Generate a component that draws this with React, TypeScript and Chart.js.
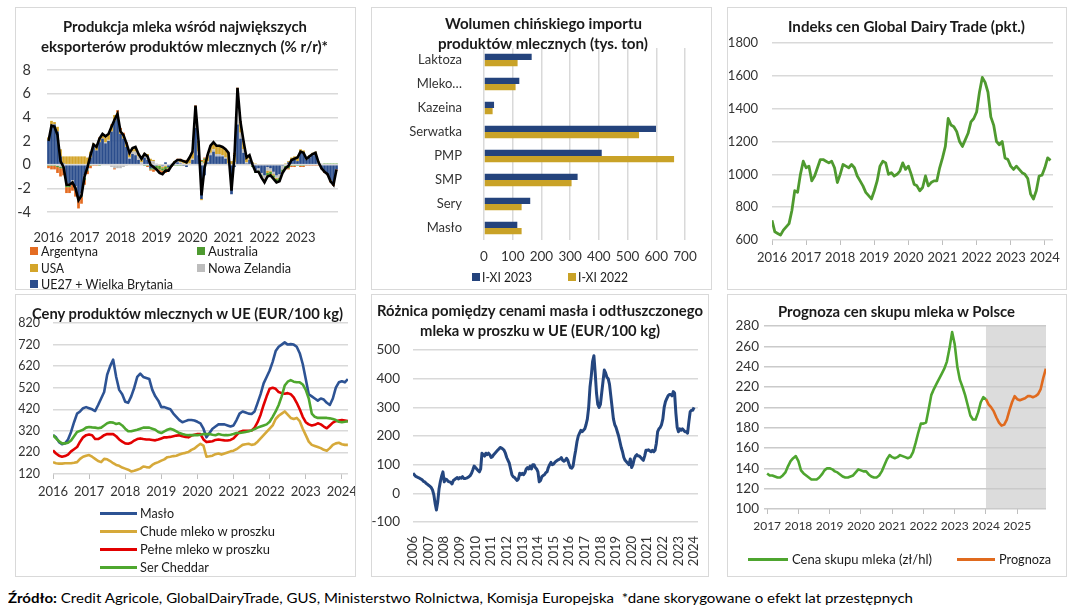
import React, { useEffect, useLayoutEffect, useRef } from "react";
import { Chart, registerables } from "chart.js";

Chart.register(...registerables);

const FONT = "Lato, 'Liberation Sans', Arial, sans-serif";
const TICK = "#333333";
const GRID = "#D9D9D9";
Chart.defaults.font.family = FONT;
Chart.defaults.color = TICK;

// ---------------- Panel 1: milk production y/y (monthly, Jan 2016 - Jan 2024) ----------------
const P1_YEARS = ["2016", "2017", "2018", "2019", "2020", "2021", "2022", "2023"];
const P1_TOTAL = [
  2.0, 3.3, 3.2, 2.5, 0.3, -0.2, -1.7, -1.7, -1.5, -2.0, -3.0, -2.6,
  -1.0, -0.2, 0.8, 1.7, 1.5, 2.2, 2.6, 2.4, 2.6, 3.2, 3.8, 4.3,
  2.8, 2.5, 1.8, 1.0, 1.4, 1.5, 0.9, 0.5, 0.9, 0.7, 0.0, -0.2,
  -0.4, -0.7, -0.8, -0.5, -0.5, -0.1, 0.2, 0.4, 0.4, 0.3, 0.2, 0.6,
  1.1, 5.0, 2.0, -2.6, -0.3, 0.8, 1.6, 1.9, 1.6, 1.6, 1.5, 1.3,
  1.0, -2.2, 0.8, 6.5, 3.6, 2.0, 0.6, 0.8, 0.0, -0.6, -0.6, -1.1,
  -1.5, -1.0, -0.9, -1.2, -1.5, -1.4, -0.7, -0.3, -0.1, 0.4, 0.5, 0.6,
  1.1, 1.0, 0.5, 0.7, 0.9, 1.0, 0.2, -0.3, -0.6, -0.8, -1.4, -1.7,
  -0.4,
];
const P1_EU = [
  2.0, 3.3, 3.4, 2.8, 0.7, 0.1, -1.6, -1.6, -1.3, -1.8, -2.7, -2.4,
  -0.9, -0.3, 0.6, 1.5, 1.2, 1.9, 2.2, 1.8, 2.0, 2.8, 3.7, 4.0,
  2.6, 2.2, 1.5, 0.5, 0.9, 0.8, 0.4, 0.0, 0.6, 0.4, -0.3, -0.3,
  -0.1, 0.0, -0.1, 0.2, -0.2, 0.0, 0.1, 0.2, 0.1, -0.1, -0.2, 0.0,
  0.4, 3.1, 0.8, -2.9, -0.9, 0.2, 0.8, 1.1, 0.7, 0.7, 0.7, 0.5,
  0.0, -2.5, -0.2, 3.4, 2.2, 1.0, 0.1, 0.4, 0.1, -0.5, -0.3, -0.7,
  -0.9, -0.2, -0.3, -0.6, -0.9, -0.8, -0.1, 0.0, 0.2, 0.4, 0.4, 0.3,
  1.0, 1.0, 0.4, 0.6, 0.8, 0.9, 0.1, -0.3, -0.6, -0.8, -1.3, -1.6,
  -0.4,
];
const P1_USA = [
  0.2, 0.3, 0.2, 0.4, 0.6, 0.6, 0.7, 0.7, 0.7, 0.7, 0.7, 0.7,
  0.7, 0.6, 0.5, 0.3, 0.4, 0.3, 0.3, 0.4, 0.4, 0.5, 0.5, 0.4,
  0.3, 0.3, 0.2, 0.3, 0.2, 0.3, 0.2, 0.3, 0.2, 0.2, 0.2, 0.1,
  0.0, -0.1, -0.1, -0.1, 0.0, 0.0, 0.1, 0.1, 0.2, 0.2, 0.3, 0.4,
  0.5, 1.2, 0.7, -0.1, 0.3, 0.4, 0.5, 0.5, 0.6, 0.6, 0.6, 0.6,
  0.8, 0.3, 0.7, 1.6, 0.8, 0.6, 0.4, 0.3, 0.1, 0.1, 0.0, 0.0,
  -0.1, -0.2, -0.1, -0.1, -0.1, 0.0, 0.0, 0.1, 0.1, 0.2, 0.3, 0.4,
  0.3, 0.2, 0.1, 0.1, 0.1, 0.1, 0.1, 0.0, 0.0, 0.0, -0.1, -0.1,
  0.0,
];
const P1_ARG = [
  -0.2, -0.3, -0.3, -0.5, -0.7, -0.6, -0.5, -0.5, -0.6, -0.6, -0.7, -0.6,
  -0.4, -0.3, -0.2, -0.1, -0.1, 0.1, 0.1, 0.1, 0.1, 0.1, -0.1, 0.2,
  0.2, 0.2, 0.2, 0.1, 0.1, 0.1, 0.0, 0.0, 0.0, -0.1, -0.1, -0.2,
  -0.2, -0.3, -0.3, -0.3, -0.2, -0.1, 0.0, 0.1, 0.1, 0.1, 0.1, 0.1,
  0.1, 0.1, 0.1, 0.1, 0.1, 0.1, 0.1, 0.1, 0.1, 0.1, 0.1, 0.1,
  0.1, 0.0, 0.1, 0.1, 0.1, 0.1, 0.0, 0.0, 0.0, 0.0, 0.0, -0.1,
  -0.1, -0.1, -0.1, -0.1, -0.1, -0.1, -0.1, -0.1, -0.1, -0.1, -0.1, 0.0,
  -0.1, -0.1, -0.1, -0.1, -0.1, -0.1, -0.1, -0.1, -0.1, -0.1, -0.1, -0.1,
  -0.1,
];
const P1_AUS = [
  -0.1, -0.1, -0.1, -0.1, -0.1, -0.1, -0.1, -0.1, -0.1, -0.1, -0.1, -0.1,
  -0.2, -0.1, -0.1, 0.0, 0.0, -0.1, 0.0, 0.0, 0.0, 0.0, 0.0, 0.0,
  0.0, 0.0, 0.0, 0.0, 0.0, 0.0, 0.0, 0.0, -0.1, -0.1, -0.1, -0.1,
  -0.2, -0.3, -0.2, -0.2, -0.1, -0.1, -0.1, -0.1, -0.1, 0.0, 0.0, 0.0,
  0.0, 0.0, 0.1, 0.1, 0.1, 0.0, 0.0, 0.0, 0.0, 0.0, 0.0, 0.0,
  0.0, 0.0, 0.0, 0.0, 0.0, 0.0, 0.0, 0.0, -0.1, -0.1, -0.1, -0.1,
  -0.1, -0.2, -0.2, -0.2, -0.2, -0.2, -0.2, -0.2, -0.2, -0.1, -0.1, -0.1,
  -0.1, -0.1, 0.0, 0.0, 0.0, 0.0, 0.0, 0.0, 0.1, 0.1, 0.1, 0.1,
  0.1,
];
const P1_NZ = [
  0.1, 0.1, 0.0, -0.1, -0.2, -0.2, -0.2, -0.2, -0.2, -0.2, -0.2, -0.2,
  -0.2, -0.1, 0.0, 0.0, 0.0, 0.0, 0.0, 0.1, 0.1, -0.2, -0.3, -0.3,
  -0.3, -0.2, -0.1, 0.1, 0.2, 0.3, 0.3, 0.2, 0.2, 0.3, 0.3, 0.3,
  0.1, 0.0, -0.1, -0.1, 0.0, 0.1, 0.1, 0.1, 0.1, 0.1, 0.0, 0.1,
  0.1, 0.6, 0.3, 0.2, 0.1, 0.1, 0.2, 0.2, 0.2, 0.2, 0.1, 0.1,
  0.1, 0.0, 0.2, 1.4, 0.5, 0.3, 0.1, 0.1, -0.1, -0.1, -0.2, -0.2,
  -0.3, -0.3, -0.2, -0.2, -0.2, -0.3, -0.3, -0.1, -0.1, 0.0, 0.0, 0.0,
  0.0, 0.0, 0.1, 0.1, 0.1, 0.1, 0.1, 0.1, 0.0, 0.0, 0.0, 0.0,
  0.0,
];

// ---------------- Panel 2: China imports (thousand t) ----------------
const P2_CATS = ["Laktoza", "Mleko…", "Kazeina", "Serwatka", "PMP", "SMP", "Sery", "Masło"];
const P2_2023 = [166, 123, 35, 599, 410, 326, 161, 116];
const P2_2022 = [117, 110, 30, 540, 662, 305, 131, 131];

// ---------------- Panel 3: GDT index (monthly from Jan 2016) ----------------
const P3_START = 2016;
const P3_GDT = [
  720, 650, 640, 630, 660, 680, 700, 780, 900, 890, 1000, 1080,
  1040, 1050, 960, 990, 1040, 1090, 1090, 1080, 1070, 1080, 1040, 950,
  1000, 1060, 1050, 1040, 1060, 1040, 990, 960, 930, 890, 870, 850,
  900, 960, 1050, 1080, 1070, 1000, 1010, 990, 1000, 1020, 1070, 1030,
  1050, 1000, 940, 930, 900, 920, 990, 930, 950, 960, 960, 1040,
  1100, 1170, 1340, 1300, 1290, 1260, 1200, 1170, 1210, 1250, 1320, 1340,
  1380, 1500, 1590, 1560, 1500, 1350, 1300, 1200, 1180, 1200, 1100, 1090,
  1050, 1030, 1050, 1030, 1010, 1000, 975, 880, 850, 900, 990, 995,
  1040, 1100, 1085,
];

// ---------------- Panel 4: EU dairy prices (monthly from Jan 2016) ----------------
const P4_START = 2016;
const P4_MASLO = [
  300, 290, 268, 258, 262, 280, 315, 360, 400, 410, 425, 430,
  425, 420, 412, 440, 470, 500, 580, 620, 650, 570, 510, 490,
  455, 450, 480, 520, 570, 585, 570, 565, 560, 510, 480, 460,
  430, 430, 425, 420, 400, 385, 370, 360, 365, 370, 370, 368,
  362, 355, 330, 290, 310, 330, 340, 350, 350, 350, 345, 340,
  345, 370, 400, 410, 405, 400, 398, 410, 450, 490, 540, 570,
  600, 640, 690, 710, 720, 730, 720, 722, 720, 710, 680, 630,
  560, 490, 480, 470, 460, 470, 465, 450, 440, 470, 520, 545,
  550, 545, 560,
];
const P4_SMP = [
  175, 170, 168, 168, 170, 170, 170, 172, 175, 190, 200, 205,
  208, 200, 190, 180, 175, 190, 188, 180, 170, 162, 158, 150,
  145, 140, 132, 135, 140, 145, 155, 152, 150, 162, 170, 175,
  182, 188, 198, 200, 203, 205, 210, 215, 218, 222, 232, 238,
  250, 260, 252, 200, 202, 205, 212, 215, 210, 215, 220, 225,
  228, 235, 245, 255, 258, 260, 255, 258, 270, 285, 300, 315,
  330, 345, 375, 390, 400, 410, 395, 380, 375, 380, 365, 330,
  300, 270, 255, 250, 245, 240, 232, 228, 240, 255, 262, 265,
  258, 255, 255,
];
const P4_WMP = [
  230, 215, 205, 200, 203, 210, 225, 235, 245, 270, 290, 300,
  303, 300, 282, 282, 290, 300, 305, 305, 305, 295, 280, 270,
  262, 260, 265, 275, 282, 285, 282, 280, 280, 278, 276, 280,
  285, 290, 290, 292, 295, 298, 300, 295, 292, 290, 298, 302,
  305, 305, 280, 268, 270, 272, 278, 280, 278, 276, 275, 278,
  285, 300, 315, 320, 320, 320, 322, 335, 360, 395, 440, 480,
  515, 520, 515, 500, 495, 492, 495, 490, 475, 450, 420, 385,
  360, 350, 345, 348, 355, 350, 340, 332, 345, 358, 365, 368,
  370, 368, 365,
];
const P4_CHEDDAR = [
  300, 285, 272, 262, 262, 265, 275, 295, 315, 320, 325, 335,
  338, 336, 335, 332, 335, 345, 355, 360, 358, 352, 355, 345,
  330, 318, 318, 322, 325, 330, 335, 335, 335, 330, 325, 315,
  310, 318, 325, 330, 325, 318, 310, 305, 302, 300, 300, 300,
  300, 302, 305, 305, 305, 302, 300, 305, 302, 300, 300, 302,
  305, 310, 310, 312, 315, 318, 322, 328, 335, 340, 345, 350,
  362, 385, 410, 440, 480, 530, 548, 555, 548, 545, 545, 535,
  510, 470, 400, 385, 380, 380, 380, 380, 378, 375, 370, 362,
  360, 362, 365,
];

// ---------------- Panel 5: butter - SMP spread (monthly from Jan 2006) ----------------
const P5_START = 2006;
const P5_SPREAD = [
  70, 65, 60, 57, 55, 53, 50, 47, 42, 40, 35, 32,
  28, 25, 20, 12, -5, -35, -58, -30, 15, 40, 60, 75,
  40, 50, 48, 42, 40, 38, 33, 45, 48, 52, 55, 50,
  55, 53, 58, 52, 52, 53, 55, 58, 62, 70, 82, 95,
  90, 85, 80, 75, 85, 140, 135, 130, 140, 135, 140, 135,
  125, 128, 135, 140, 145, 150, 155, 160, 158, 155, 150, 140,
  125, 115, 105, 85, 65, 58, 55, 50, 45, 50, 70, 65,
  70, 65, 72, 85, 90, 85, 95, 85, 100, 100, 90, 85,
  75, 40, 45, 58, 62, 65, 72, 75, 90, 100, 108, 100,
  102, 108, 112, 115, 118, 120, 125, 115, 112, 115, 122, 115,
  100, 90, 88, 95, 125, 150, 180, 200, 210, 220, 215, 220,
  225, 240, 260, 300, 370, 410, 460, 480, 420, 350, 310, 300,
  310, 350, 390, 430, 420, 405, 400, 380, 340, 300, 260, 240,
  230, 215, 200, 180, 160, 145, 125, 115, 110, 105, 100, 120,
  90, 100, 120, 130, 135, 130, 130, 125, 120, 115, 130, 150,
  150, 152, 148, 145, 150, 145, 150, 175, 215, 225, 230, 240,
  260, 300, 320, 330, 340, 345, 345, 340, 355, 350, 280, 230,
  215, 225, 220, 225, 220, 215, 215, 210, 250, 285, 290, 290,
  300,
];

// ---------------- Panel 6: Polish milk price + forecast ----------------
const P6_START = 2017;
const P6_PRICE = [
  135, 133, 133, 132, 131, 131, 133, 136, 142, 147, 150, 152,
  147, 138, 135, 133, 131, 129, 129, 129, 131, 134, 138, 140,
  140, 139, 137, 136, 134, 132, 131, 131, 132, 133, 136, 139,
  138, 137, 137, 134, 132, 131, 131, 133, 137, 143, 149, 153,
  151, 150, 151, 153, 152, 151, 150, 151, 156, 165, 175, 184,
  184, 185, 198, 212, 218, 223, 228, 233, 238, 245, 258, 274,
  262, 240, 227, 220, 212, 202, 192, 188, 188, 195, 205, 210,
  208,
];
const P6_FC_START = 2024;
const P6_FORECAST = [
  208, 203, 200, 196, 190, 185, 182, 183, 188, 197, 205, 211,
  208, 207, 208, 209, 211, 211, 210, 211, 213, 218, 229, 238,
];

// ---------------- helpers ----------------
type Box = { x: number; y: number; w: number; h: number };
type Plot = { l: number; r: number; t: number; b: number };

const monthly = (start: number, arr: number[]) => arr.map((v, i) => ({ x: start + i / 12, y: v }));
const yearLabel = (v: any) => (Number.isInteger(Number(v)) ? String(v) : "");
const plainLabel = (v: any) => String(v);

function frame(p: Box, a: Plot) {
  return {
    padding: { left: 0, top: a.t - p.y, right: p.x + p.w - a.r, bottom: 0 },
    yW: a.l - p.x,
    xH: p.y + p.h - a.b,
  };
}
const fitY = (w: number) => (s: any) => {
  s.width = w;
  s.paddingTop = 0;
  s.paddingBottom = 0;
};
const fitX = (h: number) => (s: any) => {
  s.height = h;
  s.paddingLeft = 0;
  s.paddingRight = 0;
};
function baseOptions(g: any) {
  return {
    animation: false as const,
    responsive: false,
    maintainAspectRatio: false,
    events: [] as any[],
    layout: { padding: g.padding },
    plugins: { legend: { display: false }, title: { display: false }, tooltip: { enabled: false } },
  };
}

// panel boxes & plot areas (page px)
const B1: Box = { x: 15, y: 7, w: 341, h: 283 };
const A1: Plot = { l: 47, r: 338, t: 70, b: 212 };
const B2: Box = { x: 371, y: 7, w: 341, h: 283 };
const A2: Plot = { l: 484, r: 685, t: 48, b: 240 };
const B3: Box = { x: 727, y: 7, w: 340, h: 283 };
const A3: Plot = { l: 772, r: 1053, t: 43, b: 240 };
const B4: Box = { x: 15, y: 294, w: 341, h: 283 };
const A4: Plot = { l: 53, r: 348, t: 323, b: 474 };
const B5: Box = { x: 371, y: 294, w: 338, h: 283 };
const A5: Plot = { l: 413, r: 698, t: 350, b: 522 };
const B6: Box = { x: 727, y: 294, w: 340, h: 283 };
const A6: Plot = { l: 764, r: 1046, t: 326, b: 509 };

// ---------------- chart builders ----------------
function makeP1(c: HTMLCanvasElement) {
  const g = frame(B1, A1);
  const labels = P1_TOTAL.map((_, i) => i);
  const bar = (label: string, data: number[], color: string) => ({
    type: "bar" as const,
    label,
    data,
    backgroundColor: color,
    stack: "parts",
    order: 1,
    barPercentage: 0.9,
    categoryPercentage: 1,
  });
  return new Chart(c, {
    type: "bar",
    data: {
      labels,
      datasets: [
        {
          type: "line" as const,
          label: "Suma",
          data: P1_TOTAL,
          borderColor: "#000000",
          borderWidth: 2.6,
          pointRadius: 0,
          tension: 0,
          stack: "total",
          order: 0,
        } as any,
        bar("UE27 + Wielka Brytania", P1_EU, "#2B4D8C"),
        bar("Nowa Zelandia", P1_NZ, "#BDBDBD"),
        bar("USA", P1_USA, "#D4A52A"),
        bar("Australia", P1_AUS, "#4E9A30"),
        bar("Argentyna", P1_ARG, "#E46C22"),
      ],
    },
    options: {
      ...baseOptions(g),
      scales: {
        x: {
          stacked: true,
          offset: true,
          grid: { display: false },
          border: { display: false },
          ticks: {
            autoSkip: false,
            maxRotation: 0,
            minRotation: 0,
            padding: 10,
            color: TICK,
            font: { size: 13 },
            callback: (_v: any, i: number) => (i % 12 === 0 ? P1_YEARS[i / 12] ?? "" : ""),
          },
          afterFit: fitX(g.xH),
        },
        y: {
          stacked: true,
          min: -4,
          max: 8,
          ticks: { stepSize: 2, padding: 16, color: TICK, font: { size: 14.5 } },
          grid: { color: GRID, lineWidth: 1.5, drawTicks: false },
          border: { display: false },
          afterFit: fitY(g.yW),
        },
      },
    } as any,
  });
}

function makeP2(c: HTMLCanvasElement) {
  const g = frame(B2, A2);
  return new Chart(c, {
    type: "bar",
    data: {
      labels: P2_CATS,
      datasets: [
        { label: "I-XI 2023", data: P2_2023, backgroundColor: "#24437C" },
        { label: "I-XI 2022", data: P2_2022, backgroundColor: "#C9A227" },
      ],
    },
    options: {
      ...baseOptions(g),
      indexAxis: "y",
      datasets: { bar: { categoryPercentage: 0.52, barPercentage: 1 } },
      scales: {
        x: {
          min: 0,
          max: 700,
          ticks: { stepSize: 100, padding: 9, color: TICK, font: { size: 13.5 }, maxRotation: 0 },
          grid: { color: GRID, lineWidth: 1.5, drawTicks: false },
          border: { display: false },
          afterFit: fitX(g.xH),
        },
        y: {
          ticks: { padding: 14, color: TICK, font: { size: 13 }, autoSkip: false },
          grid: { display: false },
          border: { display: false },
          afterFit: fitY(g.yW),
        },
      },
    } as any,
  });
}

function yearAxis(g: any, min: number, max: number, size: number, pad: number, tickMarks: boolean, rotate = false) {
  return {
    type: "linear",
    min,
    max,
    ticks: {
      stepSize: 1,
      includeBounds: false,
      autoSkip: false,
      maxRotation: rotate ? 90 : 0,
      minRotation: rotate ? 90 : 0,
      padding: pad,
      color: TICK,
      font: { size },
      callback: yearLabel,
    },
    grid: tickMarks
      ? { display: true, drawOnChartArea: false, drawTicks: true, tickLength: 5, color: "#BFBFBF", lineWidth: 1 }
      : { display: false },
    border: { display: false },
    afterFit: fitX(g.xH),
  };
}
function valueAxis(g: any, min: number, max: number, step: number, size: number, pad: number, gridColor = GRID) {
  return {
    min,
    max,
    ticks: { stepSize: step, padding: pad, color: TICK, font: { size }, callback: plainLabel },
    grid: { color: gridColor, lineWidth: 1.5, drawTicks: false },
    border: { display: false },
    afterFit: fitY(g.yW),
  };
}
const lineDs = (label: string, data: any[], color: string, width: number) => ({
  label,
  data,
  borderColor: color,
  backgroundColor: color,
  borderWidth: width,
  pointRadius: 0,
  tension: 0,
  borderJoinStyle: "round" as const,
});

function makeP3(c: HTMLCanvasElement) {
  const g = frame(B3, A3);
  return new Chart(c, {
    type: "line",
    data: { datasets: [lineDs("GDT", monthly(P3_START, P3_GDT), "#4F9A2F", 2.8)] },
    options: {
      ...baseOptions(g),
      scales: {
        x: yearAxis(g, 2016, 2024.24, 13, 5, true),
        y: valueAxis(g, 600, 1800, 200, 13, 14),
      },
    } as any,
  });
}

function makeP4(c: HTMLCanvasElement) {
  const g = frame(B4, A4);
  return new Chart(c, {
    type: "line",
    data: {
      datasets: [
        lineDs("Ser Cheddar", monthly(P4_START, P4_CHEDDAR), "#4EA72E", 2.6),
        lineDs("Pełne mleko w proszku", monthly(P4_START, P4_WMP), "#E20000", 2.6),
        lineDs("Chude mleko w proszku", monthly(P4_START, P4_SMP), "#D6A93A", 2.6),
        lineDs("Masło", monthly(P4_START, P4_MASLO), "#2D5394", 2.6),
      ],
    },
    options: {
      ...baseOptions(g),
      scales: {
        x: yearAxis(g, 2016, 2024.17, 13, 5, true),
        y: valueAxis(g, 120, 820, 100, 12.5, 13),
      },
    } as any,
  });
}

function makeP5(c: HTMLCanvasElement) {
  const g = frame(B5, A5);
  return new Chart(c, {
    type: "line",
    data: { datasets: [lineDs("Różnica", monthly(P5_START, P5_SPREAD), "#24467F", 3)] },
    options: {
      ...baseOptions(g),
      scales: {
        x: yearAxis(g, 2006, 2024.25, 13, 6, false, true),
        y: valueAxis(g, -100, 500, 100, 13.5, 13),
      },
    } as any,
  });
}

const shadePlugin = {
  id: "forecastShade",
  beforeDraw(chart: any) {
    const { ctx, chartArea: a, scales } = chart;
    const x0 = scales.x.getPixelForValue(P6_FC_START);
    ctx.save();
    ctx.fillStyle = "#DCDCDC";
    ctx.fillRect(x0, a.top, a.right - x0, a.bottom - a.top);
    ctx.restore();
  },
};

function makeP6(c: HTMLCanvasElement) {
  const g = frame(B6, A6);
  return new Chart(c, {
    type: "line",
    data: {
      datasets: [
        lineDs("Cena skupu mleka (zł/hl)", monthly(P6_START, P6_PRICE), "#4EA52F", 2.6),
        lineDs("Prognoza", monthly(P6_FC_START, P6_FORECAST), "#E06A1E", 2.6),
      ],
    },
    options: {
      ...baseOptions(g),
      scales: {
        x: yearAxis(g, 2016.9, 2025.92, 12, 5, true),
        y: valueAxis(g, 100, 280, 20, 13.5, 5, "#CACACA"),
      },
    } as any,
    plugins: [shadePlugin],
  });
}

// ---------------- components ----------------
function FitText(props: {
  x: number;
  y: number;
  w?: number;
  size: number;
  bold?: boolean;
  color?: string;
  children: React.ReactNode;
}) {
  const ref = useRef<HTMLSpanElement>(null);
  useLayoutEffect(() => {
    const el = ref.current;
    if (!el) return;
    el.style.transform = "none";
    const nat = el.getBoundingClientRect().width;
    if (props.w && nat > 0) el.style.transform = `scaleX(${props.w / nat})`;
  }, [props.w]);
  const L = Math.round(props.size * 1.3);
  return (
    <div
      style={{
        position: "absolute",
        left: props.x,
        top: props.y - L / 2,
        height: L,
        lineHeight: `${L}px`,
        whiteSpace: "nowrap",
        fontFamily: FONT,
        fontSize: props.size,
        fontWeight: props.bold ? 700 : 400,
        color: props.color ?? "#1a1a1a",
      }}
    >
      <span ref={ref} style={{ display: "inline-block", transformOrigin: "0 50%" }}>
        {props.children}
      </span>
    </div>
  );
}

function ChartBox({ box, make }: { box: Box; make: (c: HTMLCanvasElement) => Chart }) {
  const ref = useRef<HTMLCanvasElement>(null);
  useEffect(() => {
    if (!ref.current) return;
    const ch = make(ref.current);
    return () => ch.destroy();
  }, []);
  return (
    <>
      <canvas
        ref={ref}
        width={box.w}
        height={box.h}
        style={{ position: "absolute", left: box.x, top: box.y, width: box.w, height: box.h }}
      />
      <div
        style={{
          position: "absolute",
          left: box.x,
          top: box.y,
          width: box.w,
          height: box.h,
          border: "1px solid #D9D9D9",
          boxSizing: "border-box",
          pointerEvents: "none",
        }}
      />
    </>
  );
}

const Sq = ({ x, y, c }: { x: number; y: number; c: string }) => (
  <div style={{ position: "absolute", left: x, top: y - 4, width: 8, height: 8, background: c }} />
);
const Ln = ({ x1, x2, y, c }: { x1: number; x2: number; y: number; c: string }) => (
  <div style={{ position: "absolute", left: x1, top: y - 1.5, width: x2 - x1, height: 3, background: c }} />
);

const TS = 15.5; // title font size
const LS = 13; // legend font size

export default function App() {
  return (
    <div
      style={{
        position: "absolute",
        left: 0,
        top: 0,
        width: 1076,
        height: 609,
        background: "#ffffff",
        overflow: "hidden",
        fontFamily: FONT,
      }}
    >
      <ChartBox box={B1} make={makeP1} />
      <ChartBox box={B2} make={makeP2} />
      <ChartBox box={B3} make={makeP3} />
      <ChartBox box={B4} make={makeP4} />
      <ChartBox box={B5} make={makeP5} />
      <ChartBox box={B6} make={makeP6} />

      {/* Panel 1 */}
      <FitText x={63} y={26} w={244} size={TS} bold>Produkcja mleka wśród największych</FitText>
      <FitText x={41} y={45.5} w={287} size={TS} bold>eksporterów produktów mlecznych (% r/r)*</FitText>
      <Sq x={30} y={251} c="#E46C22" />
      <FitText x={41} y={251} w={57} size={LS}>Argentyna</FitText>
      <Sq x={197} y={251} c="#4E9A30" />
      <FitText x={208} y={251} w={50} size={LS}>Australia</FitText>
      <Sq x={30} y={268} c="#D4A52A" />
      <FitText x={41} y={268} w={23} size={LS}>USA</FitText>
      <Sq x={197} y={268} c="#BDBDBD" />
      <FitText x={208} y={268} w={83} size={LS}>Nowa Zelandia</FitText>
      <Sq x={30} y={284} c="#2B4D8C" />
      <FitText x={41} y={284} w={132} size={LS}>UE27 + Wielka Brytania</FitText>

      {/* Panel 2 */}
      <FitText x={445} y={23} w={197} size={TS} bold>Wolumen chińskiego importu</FitText>
      <FitText x={438} y={43} w={210} size={TS} bold>produktów mlecznych (tys. ton)</FitText>
      <Sq x={472} y={277} c="#24437C" />
      <FitText x={482} y={277} w={50} size={LS}>I-XI 2023</FitText>
      <Sq x={568} y={277} c="#C9A227" />
      <FitText x={578} y={277} w={50} size={LS}>I-XI 2022</FitText>

      {/* Panel 3 */}
      <FitText x={788} y={25.5} w={237} size={TS} bold>Indeks cen Global Dairy Trade (pkt.)</FitText>

      {/* Panel 4 */}
      <FitText x={32} y={313} w={311} size={TS} bold>Ceny produktów mlecznych w UE (EUR/100 kg)</FitText>
      <Ln x1={100} x2={137} y={513} c="#2D5394" />
      <FitText x={140} y={513} w={34} size={LS}>Masło</FitText>
      <Ln x1={100} x2={137} y={531} c="#D6A93A" />
      <FitText x={140} y={531} w={135} size={LS}>Chude mleko w proszku</FitText>
      <Ln x1={100} x2={137} y={549} c="#E20000" />
      <FitText x={140} y={549} w={130} size={LS}>Pełne mleko w proszku</FitText>
      <Ln x1={100} x2={137} y={567} c="#4EA72E" />
      <FitText x={140} y={567} w={69} size={LS}>Ser Cheddar</FitText>

      {/* Panel 5 */}
      <FitText x={377} y={309.5} w={326} size={TS} bold>Różnica pomiędzy cenami masła i odtłuszczonego</FitText>
      <FitText x={420} y={329.5} w={240} size={TS} bold>mleka w proszku w UE (EUR/100 kg)</FitText>

      {/* Panel 6 */}
      <FitText x={778} y={310.5} w={237} size={TS} bold>Prognoza cen skupu mleka w Polsce</FitText>
      <Ln x1={748} x2={788} y={559} c="#4EA52F" />
      <FitText x={792} y={559} w={140} size={LS}>Cena skupu mleka (zł/hl)</FitText>
      <Ln x1={957} x2={995} y={559} c="#E06A1E" />
      <FitText x={999} y={559} w={52} size={LS}>Prognoza</FitText>

      {/* Footer */}
      <FitText x={8} y={598} w={905} size={13.5} color="#000">
        <b>Źródło:</b> Credit Agricole, GlobalDairyTrade, GUS, Ministerstwo Rolnictwa, Komisja Europejska{"\u00a0\u00a0"}*dane skorygowane o efekt lat przestępnych
      </FitText>
    </div>
  );
}
